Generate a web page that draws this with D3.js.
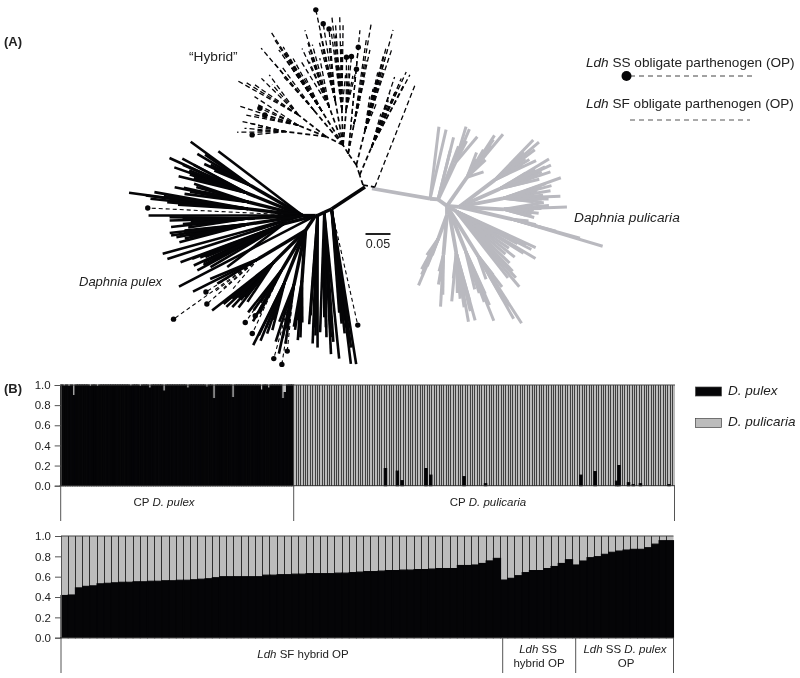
<!DOCTYPE html>
<html>
<head>
<meta charset="utf-8">
<script src="https://cdn.jsdelivr.net/npm/d3@7"></script>
<style>
html,body{margin:0;padding:0;background:#fff}
svg{display:block;filter:blur(0.3px)}
text{font-family:"Liberation Sans",Arial,sans-serif;fill:#222}
</style>
</head>
<body>
<svg id="chart" width="800" height="678"></svg>
<script>
// ---------- Tree data: [bearing in degrees, distance from the clade hub in 0.001 units, kind]
// kind: 0 or missing = plain, 1 = dashed, 2 = dashed with tip dot
const greyA = [[83,145],[77,142]];
const greyB1 = [[69,156],[66,154],[58,148],[64,130]];
const greyB2 = [[76,128],[76,100],[69,114]];
const greyC = [[52,182],[55,162],[57,134],[61,122],[43,100],[59,110],[54,150],[56,170],[53,130],[50,120]];
const greyD1 = [[42,200],[39,206],[36,164],[33,152],[31,180],[40,170],[37,190],[34,170]];
const greyD2 = [[28,204],[24.4,202],[26,170],[21,196],[19,170],[27,150],[23,180],[25,190],[20,150]];
const greyD3 = [[16,212],[15,180],[12,160],[10,186],[6,204],[3.4,166],[14,170],[13,190],[8,170],[9,150],[5,180],[4,150]];
const greyE1 = [[0,216],[3,170],[-2,150],[-4.5,160],[-6,146],[-8,152],[1,180],[-1,165],[-3,140],[-5,130],[-7,135]];
const greyE2 = [[-13,158],[-11.5,142],[-15.3,298],[-14,200],[-14.5,250],[-14,170]];
const greyF = [[-24.6,176],[-30.8,186],[-25.5,156],[-50,198],[-46.6,166],[-41,132],[-35,130],[-28,140],[-27,170],[-32,160],[-38,150],[-44,150],[-48,180],[-52,170]];
const greyG1 = [[-57.5,272],[-59.4,256],[-55.7,190],[-62,160],[-58,230],[-59,210],[-56,160]];
const greyG2 = [[-68,242],[-66.7,186],[-72,170],[-67,210],[-69,200],[-70,180]];
const greyG3 = [[-76.6,230],[-80,230],[-79,176],[-82.6,182],[-86,140],[-88,186],[-78,210],[-81,200],[-84,170],[-77,190],[-83,150]];
const greyH1 = [[-94,184],[-98,114],[-96,134],[-93,160],[-97,140]];
const greyH2 = [[-112,152],[-116.6,90],[-110,56],[-114,106],[-110,86],[-113,130],[-111,110],[-115,120]];

const blackU0 = [[142.6,212],[180,308],[195.3,290],[197.8,284],[177.2,310,2]];
const blackU1 = [[146.6,268],[149.6,244],[152.3,222],[153,198],[148,230],[151,210]];
const blackU2 = [[156.6,290],[154.7,266],[159.4,274],[158.3,244],[162.4,260],[155,240],[157,260],[160,240],[161,230]];
const blackU3 = [[167.5,262],[166.8,244],[163.7,226],[169.6,240],[166.6,202],[165,220],[168,230],[167,200]];
const blackU4 = [[172.5,350],[172.7,316],[173.7,306],[174.4,272],[171,300],[172,280],[175,250]];
const blackU5 = [[182.1,266],[180.7,266],[183.4,224],[184.9,210],[185,264],[181,240],[182,220],[184,240],[186,230]];
const blackU6 = [[187.5,268],[188.6,266],[189.7,256],[192.2,252],[187.2,238],[188,240],[190,230],[191,240]];
const blackMid = [[200.4,220],[200.9,196],[204.8,198],[208.3,196],[217.4,142],[205.6,178],[210.6,170],[202,180],[203,170],[207,180],[206,160]];
const blackL1 = [[208.5,256],[207,214],[211.1,206],[213.9,318,2],[211.7,234,2],[216.7,246,2],[215,200,1],[214,220,1],[219,190,1]];
const blackL2 = [[220.6,246],[221.9,220],[226.3,212],[225,190],[229,204],[230.9,184],[223,200],[224,220],[227,190],[228,180]];
const blackL3 = [[235,200],[236.8,220,2],[239.5,198,2],[240,210],[242.7,232,2],[237,190],[238,170],[241,190]];
const blackL4 = [[245.5,252],[247.8,238],[249.6,220],[251.6,210],[246,230],[248,210],[250,190]];
const blackL5 = [[254,190],[256.1,264,2],[257.8,252],[260,272,2],[260,230],[261.4,244,2],[255,230],[258,220],[259,200]];
const blackL6 = [[263.1,194],[267.3,214],[268,184],[264,200],[265,180],[266,220]];
const blackM = [[265.6,218],[267.8,256],[270,264],[268.3,224],[266,200],[269,240]];
const blackN = [[270.8,230],[272.7,284],[275.8,294],[270,210],[268,240],[271,250],[273,250],[274,260]];
const blackK = [[279,314],[277.1,312],[277.6,266],[276.5,224],[282.7,238,2],[274.2,208],[278,280],[276,250],[275,230]];
const blackLong = [[207.5,308]];

const hybridBase = [[68.5,224]];
const hybridS1 = [[63.4,224],[65.7,226],[66.7,210],[70.4,208],[69.8,174],[68,150],[71,130],[66,190],[64,200],[67,180],[69,160]];
const hybridS2 = [[74.8,280],[75.8,244],[73,240],[76.2,224],[76,192],[76.8,174],[77.7,156],[79,140],[72,130],[74,200],[75,220],[77,190]];
const hybridS3a = [[80,268],[78.2,212],[77.7,156],[77.7,110],[81,230],[79,190]];
const hybridS3b = [[84.6,248],[84.6,214,2]];
const hybridS4a = [[91.5,262],[95,262],[90,240],[93.6,244],[92.4,156],[95,190],[88,140],[94,220],[91,200],[96,230]];
const hybridS4b = [[87.8,176,2],[84.6,178,2],[80,154,2],[84,124],[86,160],[82,140]];
const hybridS4c = [[101.4,276,2],[99.3,246,2],[96.9,234,2],[101.6,232],[100,150],[98,200],[102,200],[103,210]];
const hybridS4d = [[108.4,242],[109,216],[109.7,188],[105,180],[113,210],[116.6,186],[107,210],[110,200],[112,180]];
const hybridS4e = [[122.5,266],[123,250],[121.4,230],[123.7,204],[123.7,180],[119,160],[122,220],[124,230],[120,200]];
const hybridS4f = [[130.2,254],[130,218],[128,200],[131,180]];
const hybridS5a = [[147.8,212],[146,196],[138,174],[132.6,168],[144,180],[136,150]];
const hybridS5b = [[150.8,164],[160.6,186],[156.8,144,2],[165,168],[160.6,130,2],[155,150],[163,150]];
const hybridS5c = [[169.8,170],[170,156],[174.2,164],[177.2,178],[178.7,148,2],[172,140],[175,140]];

// ---------- Bar data
const yTicks = [0,0.2,0.4,0.6,0.8,1.0];
const cpPulexCount = 98;
const cpPulicariaCount = 160;
// [bar index, D. pulex ancestry] wherever a bar departs from the solid colour
const cpPulexNotches = [[1,.99],[3,.985],[5,.895],[12,.985],[15,.985],[29,.99],[33,.985],[37,.97],[43,.94],[53,.97],[61,.98],[64,.865],[72,.875],[84,.95],[87,.97],[93,.865],[94,.925]];
const cpPulicariaSpikes = [[38,.17],[43,.145],[45,.05],[55,.17],[57,.105],[71,.09],[80,.02],[120,.105],[126,.14],[135,.045],[136,.2],[140,.03],[142,.01],[145,.02],[157,.01]];
const sfHybrid = [.415,.42,.49,.505,.51,.53,.535,.54,.545,.545,.55,.55,.555,.555,.56,.56,.565,.565,.57,.575,.58,.59,.60,.60,.60,.60,.60,.60,.615,.615,.62,.62,.625,.625,.63,.63,.63,.63,.635,.635,.64,.645,.65,.65,.655,.66,.66,.665,.665,.67,.67,.675,.68,.68,.68,.71,.71,.715,.73,.755,.78];
const ssHybrid = [.567,.584,.61,.64,.66,.66,.68,.70,.73,.767];
const ssPulex = [.715,.754,.787,.797,.82,.84,.852,.862,.869,.869,.885,.92,.954,.954];

const cBlack = "#050507", cGrey = "#b9b9bf", cBar = "#bcbcbc", cAxis = "#555";

const svg = d3.select("#chart");

// ---------- Trees
const branchScale = d3.scaleLinear().domain([0,50]).range([0,25]);
const rad = d3.scaleLinear().domain([0,180]).range([0,Math.PI]);
const tip = ([b,l,k]) => ({b,l,k:k||0});
const node = (b,l,children) => ({b,l,k:0,children});
const tips = a => a.map(tip);
// A shared trunk: its tips keep their place, the last stretch now starts at the trunk's end.
function trunk(b,l,arr){
  const tx=l*Math.cos(rad(b)), ty=l*Math.sin(rad(b));
  return node(b,l,arr.map(([tb,tl,k])=>{
    const ex=tl*Math.cos(rad(tb))-tx, ey=tl*Math.sin(rad(tb))-ty;
    return {b:rad.invert(Math.atan2(ey,ex)),l:Math.hypot(ex,ey),k:k||0};
  }));
}

const greyTree = {b:0,l:0,k:0,children:[
  node(-10,118,[...tips(greyA),
    node(-5,16,[trunk(65,80,greyB1),...tips(greyB2),
      node(-36,22,[trunk(55,70,greyC),
        node(-5,24,[trunk(37,90,greyD1),trunk(24,90,greyD2),trunk(11,90,greyD3),trunk(-3,90,greyE1),trunk(-13,110,greyE2)]),
        node(-30,20,tips(greyF)),
        node(-60,6,[trunk(-58,110,greyG1),trunk(-68,90,greyG2),trunk(-80,90,greyG3)]),
        node(-90,18,[trunk(-95,80,greyH1),trunk(-110,50,greyH2)])
      ])
    ])
  ])
]};
const blackTree = {b:0,l:0,k:0,children:[
  node(213.4,80,[...tips(blackK),
    node(204,16,[...tips(blackN),
      node(206,15,[...tips(blackM),
        node(180,4,[...tips(blackLong),
          node(180,26,[...tips(blackU0),trunk(150,120,blackU1),trunk(158,120,blackU2),trunk(166,110,blackU3),trunk(173,110,blackU4),trunk(183,110,blackU5),trunk(189,110,blackU6)]),
          node(194.7,66,tips(blackMid)),
          node(236,36,[trunk(211,110,blackL1),trunk(225,90,blackL2),trunk(239,90,blackL3),trunk(248,110,blackL4),trunk(258,110,blackL5),trunk(266,100,blackL6)])
        ])
      ])
    ])
  ])
]};
const hybridTree = {b:0,l:0,k:0,children:[
  node(-10,24,tips(hybridBase)),
  node(108.4,21,[trunk(67,60,hybridS1),
    node(108.4,21,[trunk(76,70,hybridS2),
      node(125.5,28,[trunk(79,60,hybridS3a),...tips(hybridS3b),
        node(121,20,[trunk(92,70,hybridS4a),trunk(85,70,hybridS4b),trunk(100,90,hybridS4c),trunk(110,80,hybridS4d),trunk(122,80,hybridS4e),trunk(130,90,hybridS4f),
          node(153.4,38,[trunk(142,70,hybridS5a),trunk(158,60,hybridS5b),trunk(173,80,hybridS5c)])
        ])
      ])
    ])
  ])
]};

function drawTree(tree, origin, style){
  const root = d3.hierarchy(tree);
  root.each(d=>{
    if(!d.parent){ d.x=origin[0]; d.y=origin[1]; return; }
    const r = branchScale(d.data.l), a = rad(d.data.b);
    d.x = d.parent.x + r*Math.cos(a);
    d.y = d.parent.y - r*Math.sin(a);
  });
  const g = svg.append("g");
  const links = root.links();
  const solid = links.filter(l=>!l.target.data.k), dashed = links.filter(l=>l.target.data.k);
  const draw = (data,cls,col,w,dash)=> g.selectAll("line."+cls).data(data).join("line").attr("class",cls)
    .attr("x1",d=>d.source.x).attr("y1",d=>d.source.y)
    .attr("x2",d=>d.target.x).attr("y2",d=>d.target.y)
    .attr("stroke",col).attr("stroke-width",d=>d.target.children?w+style.inner:w).attr("stroke-dasharray",dash||null);
  draw(solid,"s",style.color,style.width,style.dash);
  draw(dashed,"d",style.dashColor||style.color,style.dashWidth||style.width,style.dashPattern||"5 3");
  g.selectAll("circle").data(root.descendants().filter(d=>d.data.k===2)).join("circle")
    .attr("cx",d=>d.x).attr("cy",d=>d.y).attr("r",2.7).attr("fill",cBlack);
}
drawTree(greyTree,[372,188.5],{color:cGrey,width:3,inner:.8});
drawTree(hybridTree,[363,185],{color:cBlack,width:1.3,inner:.4,dash:"5 3",dashPattern:"5 3"});
drawTree(blackTree,[365,187],{color:cBlack,width:2.6,inner:.8,dashWidth:1.1,dashPattern:"4 3"});

// Scale bar, drawn from the same scale as the branches
const barLen = branchScale(50);
svg.append("line").attr("x1",365.5).attr("x2",365.5+barLen).attr("y1",234).attr("y2",234).attr("stroke","#222").attr("stroke-width",2);
svg.append("text").attr("x",365.5+barLen/2).attr("y",248).attr("text-anchor","middle").attr("font-size",12.5).text("0.05");

function rich(x,y,parts,opt={}){
  const t = svg.append("text").attr("x",x).attr("y",y).attr("font-size",opt.size||11.5)
    .attr("text-anchor",opt.anchor||"start").attr("font-weight",opt.bold?"bold":null);
  parts.forEach(([s,it])=>t.append("tspan").attr("font-style",it?"italic":null).text(s));
  return t;
}
rich(4,46,[["(A)"]],{size:13,bold:true});
rich(4,393,[["(B)"]],{size:13,bold:true});
rich(189,61,[["\u201CHybrid\u201D"]],{size:13.7});
rich(79,286,[["Daphnia pulex",1]],{size:13});
rich(574,222,[["Daphnia pulicaria",1]],{size:13.7});

// Legend A
rich(586,67,[["Ldh",1],[" SS obligate parthenogen (OP)"]],{size:13.6});
rich(586,108,[["Ldh",1],[" SF obligate parthenogen (OP)"]],{size:13.6});
svg.append("line").attr("x1",630).attr("x2",752).attr("y1",76).attr("y2",76).attr("stroke","#444").attr("stroke-dasharray","5 4");
svg.append("circle").attr("cx",626.5).attr("cy",76).attr("r",5).attr("fill",cBlack);
svg.append("line").attr("x1",630).attr("x2",750).attr("y1",120).attr("y2",120).attr("stroke","#555").attr("stroke-dasharray","5 4");

// Legend B
const legendB = [["D. pulex",cBlack,387],["D. pulicaria",cBar,418.5]];
legendB.forEach(([name,col,y])=>{
  svg.append("rect").attr("x",695.5).attr("y",y).attr("width",26).attr("height",9).attr("fill",col).attr("stroke","#444").attr("stroke-width",.7);
  rich(728,y+7.5,[[name,1]],{size:13.5});
});

// ---------- Stacked bars
function stackedPanel(rows, xLeft, xRight, yTop, yBottom, sep, sepWidth, withAxis){
  const x = d3.scaleBand().domain(d3.range(rows.length)).range([xLeft,xRight]);
  const y = d3.scaleLinear().domain([0,1]).range([yBottom,yTop]);
  const series = d3.stack().keys(["pulex","pulicaria"])(rows);
  const g = svg.append("g");
  const grey = g.append("g").attr("fill",cBar);
  grey.selectAll("rect").data(series[1]).join("rect")
    .attr("x",(d,i)=>x(i)).attr("width",x.bandwidth())
    .attr("y",d=>y(d[1])).attr("height",d=>Math.max(0,y(d[0])-y(d[1])));
  // separators lie under the black part so they only show through the grey part
  if(sepWidth>0){
    g.append("g").attr("shape-rendering","crispEdges").selectAll("line").data(rows).join("line")
      .attr("x1",(d,i)=>x(i)).attr("x2",(d,i)=>x(i))
      .attr("y1",yBottom).attr("y2",yTop)
      .attr("stroke",sep).attr("stroke-width",sepWidth);
  }
  // a stroke over one pixel wide closes the seams between adjacent black bars
  const black = g.append("g").attr("fill",cBlack).attr("stroke",cBlack).attr("stroke-width",1.1);
  black.selectAll("rect").data(series[0].filter(d=>d[1]>0)).join("rect")
    .attr("x",d=>x(rows.indexOf(d.data))).attr("width",x.bandwidth())
    .attr("y",d=>y(d[1])).attr("height",d=>Math.max(0,y(d[0])-y(d[1])));
  if(withAxis){
    const axis = d3.axisLeft(y).tickValues(yTicks).tickFormat(d3.format(".1f")).tickSize(6).tickPadding(4);
    const ag = svg.append("g").attr("transform",`translate(${xLeft},0)`).call(axis);
    ag.selectAll("text").attr("font-size",11.5).style("font-family",'"Liberation Sans",Arial,sans-serif').attr("fill","#333");
    ag.selectAll("line,path").attr("stroke",cAxis);
  }
  svg.append("line").attr("x1",xLeft).attr("x2",xRight).attr("y1",yTop).attr("y2",yTop).attr("stroke","#444").attr("stroke-width",1);
  svg.append("line").attr("x1",xLeft-1).attr("x2",xRight).attr("y1",yBottom).attr("y2",yBottom).attr("stroke","#333").attr("stroke-width",1);
}
function toRows(values){ return values.map(v=>({pulex:v,pulicaria:1-v})); }
function fromSparse(n,sparse,base){
  const a = new Array(n).fill(base);
  sparse.forEach(([i,v])=>a[i]=v);
  return a;
}

const p1Mid = 293.7;
stackedPanel(toRows(fromSparse(cpPulexCount,cpPulexNotches,1)),60.7,p1Mid,385,485.7,"none",0,true);
stackedPanel(toRows(fromSparse(cpPulicariaCount,cpPulicariaSpikes,0)),p1Mid,675,385,485.7,"#404040",1,false);

// Panel 2
const p2Rows = toRows([...sfHybrid,...ssHybrid,...ssPulex]);
stackedPanel(p2Rows,61,673.5,536,637.7,"#2f2f2f",1,true);

// Group brackets
const brackets = [[60.7,485.7,521],[p1Mid,485.7,521],[674.5,485.7,521],[61,637.7,673],[502.7,637.7,673],[575.7,637.7,673],[673.5,637.7,673]];
svg.selectAll("line.br").data(brackets).join("line").attr("class","br")
  .attr("x1",d=>d[0]).attr("x2",d=>d[0]).attr("y1",d=>d[1]).attr("y2",d=>d[2])
  .attr("stroke",cAxis).attr("stroke-width",1);

rich(164,506,[["CP "],["D. pulex",1]],{anchor:"middle"});
rich(488,506,[["CP "],["D. pulicaria",1]],{anchor:"middle"});
rich(303,658,[["Ldh",1],[" SF hybrid OP"]],{anchor:"middle"});
rich(538,653,[["Ldh",1],[" SS"]],{anchor:"middle"});
rich(539,667,[["hybrid OP"]],{anchor:"middle"});
rich(625,653,[["Ldh",1],[" SS "],["D. pulex",1]],{anchor:"middle"});
rich(626,667,[["OP"]],{anchor:"middle"});
</script>
</body>
</html>
